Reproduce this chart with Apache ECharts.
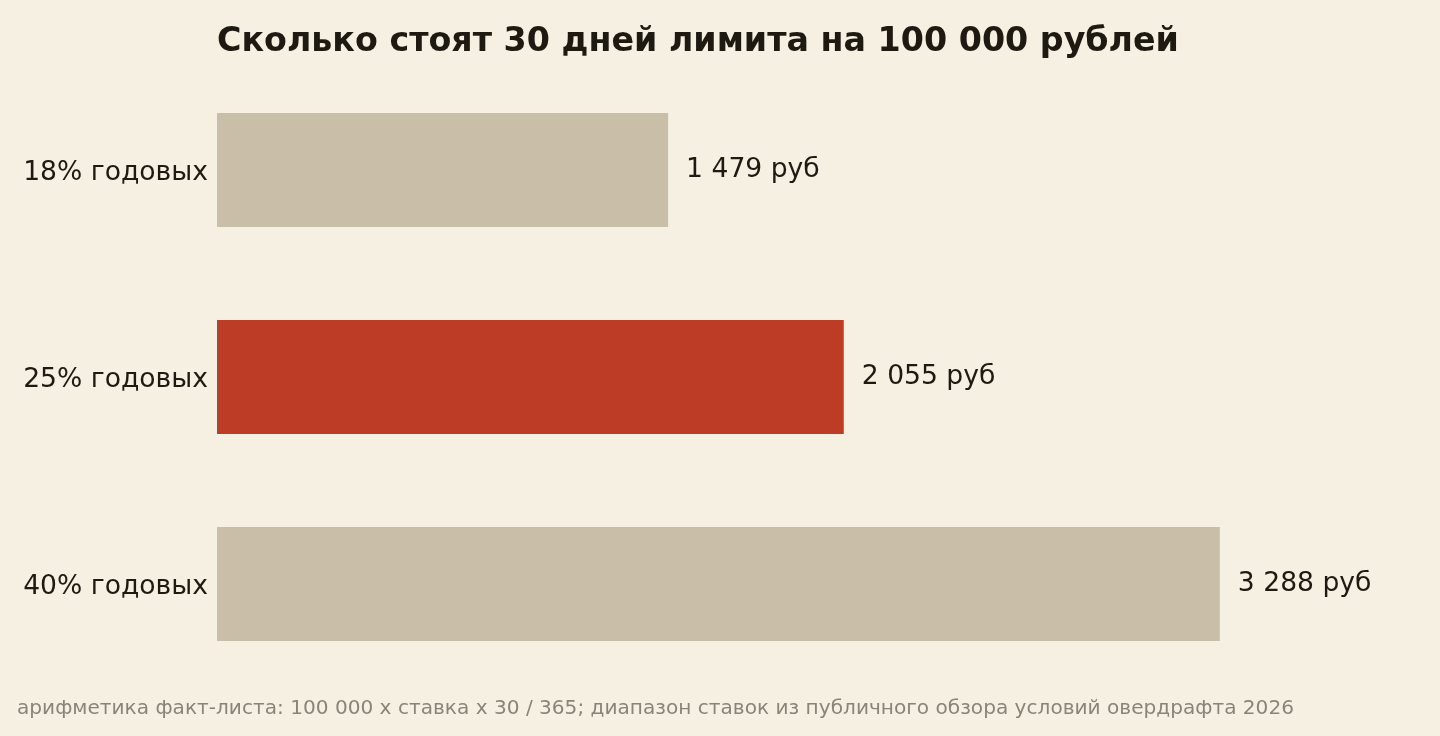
<!DOCTYPE html>
<html><head><meta charset="utf-8">
<script src="https://cdn.jsdelivr.net/npm/echarts@6/dist/echarts.min.js"></script>
<style>html,body{margin:0;padding:0;background:#f6f0e3;}#c{width:1440px;height:736px;}</style>
</head><body><div id="c"></div>
<script>
const categories = ['18% годовых', '25% годовых', '40% годовых'];
const values = [1479, 2055, 3288];
const valueLabels = ['1 479 руб', '2 055 руб', '3 288 руб'];
const barColors = ['#c9bfa8', '#bc3c26', '#c9bfa8'];
const titleText = 'Сколько стоят 30 дней лимита на 100 000 рублей';
const footerText = 'арифметика факт-листа: 100 000 x ставка x 30 / 365; диапазон ставок из публичного обзора условий овердрафта 2026';

const chart = echarts.init(document.getElementById('c'));
chart.setOption({
  backgroundColor: '#f6f0e3',
  animation: false,
  title: [{
    text: titleText, left: 217, top: 26, padding: 0,
    textStyle: {fontFamily: 'DejaVu Sans', fontSize: 33.3, fontWeight: 'bold', color: '#1e1a12'}
  }, {
    text: footerText, left: 17, top: 699, padding: 0,
    textStyle: {fontFamily: 'DejaVu Sans', fontSize: 20.1, fontWeight: 'normal', color: '#8a8478'}
  }],
  grid: {left: 217, right: 94.5, top: 66.5, bottom: 48.5, containLabel: false},
  xAxis: {type: 'value', min: 0, max: 3700, show: false},
  yAxis: {
    type: 'category', data: categories, inverse: true,
    axisLine: {show: false}, axisTick: {show: false}, splitLine: {show: false},
    axisLabel: {
      margin: 9,
      formatter: v => '{a|' + v + '}',
      rich: {a: {fontFamily: 'DejaVu Sans', fontSize: 26.6, color: '#1e1a12', padding: [6, 0, 0, 0]}}
    }
  },
  series: [{
    type: 'bar', barWidth: '55%',
    data: values.map((v, i) => ({value: v, itemStyle: {color: barColors[i]}})),
    label: {
      show: true, position: 'right', distance: 18,
      fontFamily: 'DejaVu Sans', fontSize: 26.6, color: '#1e1a12',
      formatter: p => valueLabels[p.dataIndex]
    }
  }]
});
</script></body></html>
